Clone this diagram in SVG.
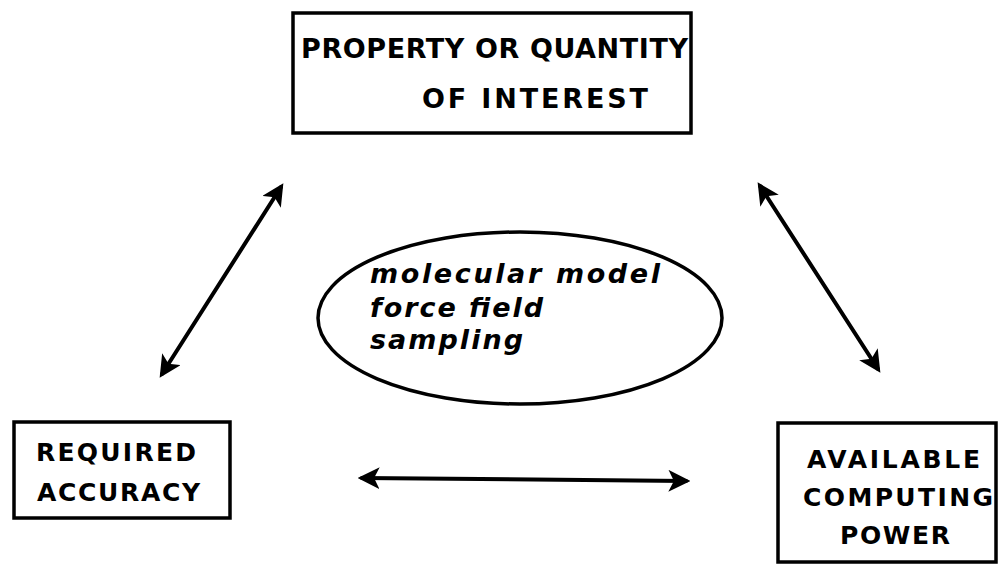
<svg xmlns="http://www.w3.org/2000/svg" width="1000" height="574" viewBox="0 0 1000 574">
<style>
.box{fill:none;stroke:#000;stroke-width:3.5}
.cap{font-family:"DejaVu Sans","Liberation Sans",sans-serif;font-weight:bold;fill:#000}
.it{font-family:"DejaVu Sans","Liberation Sans",sans-serif;font-weight:bold;font-style:italic;fill:#000;font-size:27px}
.conn{stroke:#000;stroke-width:4;fill:none;stroke-linecap:round}
</style>
<defs>
<marker id="ah" viewBox="0 0 10 10" refX="8" refY="5" markerWidth="5.5" markerHeight="5.5" orient="auto-start-reverse" markerUnits="strokeWidth">
<path d="M0,0 L10,5 L0,10 L2.5,5 Z" fill="#000"/>
</marker>
</defs>
<rect width="1000" height="574" fill="#fff"/>
<g id="node-property">
<rect class="box" x="293" y="13" width="398" height="120"/>
<text class="cap" x="301" y="58" font-size="27" textLength="387">PROPERTY OR QUANTITY</text>
<text class="cap" x="422" y="108" font-size="27" textLength="226">OF INTEREST</text>
</g>
<g id="node-accuracy">
<rect class="box" x="14" y="422" width="216" height="96"/>
<text class="cap" x="36" y="461" font-size="25" textLength="160">REQUIRED</text>
<text class="cap" x="37" y="501" font-size="25" textLength="163">ACCURACY</text>
</g>
<g id="node-computing">
<rect class="box" x="778" y="423" width="218" height="139"/>
<text class="cap" x="807" y="468" font-size="25" textLength="173">AVAILABLE</text>
<text class="cap" x="803" y="506" font-size="25" textLength="190">COMPUTING</text>
<text class="cap" x="840" y="544" font-size="25" textLength="110">POWER</text>
</g>
<g id="node-model">
<ellipse class="box" cx="520" cy="318" rx="202" ry="86"/>
<text class="it" x="370" y="283" textLength="290">molecular model</text>
<text class="it" x="370" y="317" textLength="173">force field</text>
<text class="it" x="370" y="349" textLength="153">sampling</text>
</g>
<g id="connectors">
<line class="conn" x1="281" y1="187" x2="162" y2="374" marker-start="url(#ah)" marker-end="url(#ah)"/>
<line class="conn" x1="760" y1="186" x2="878" y2="369" marker-start="url(#ah)" marker-end="url(#ah)"/>
<line class="conn" x1="362" y1="478" x2="686" y2="481" marker-start="url(#ah)" marker-end="url(#ah)"/>
</g>
</svg>
